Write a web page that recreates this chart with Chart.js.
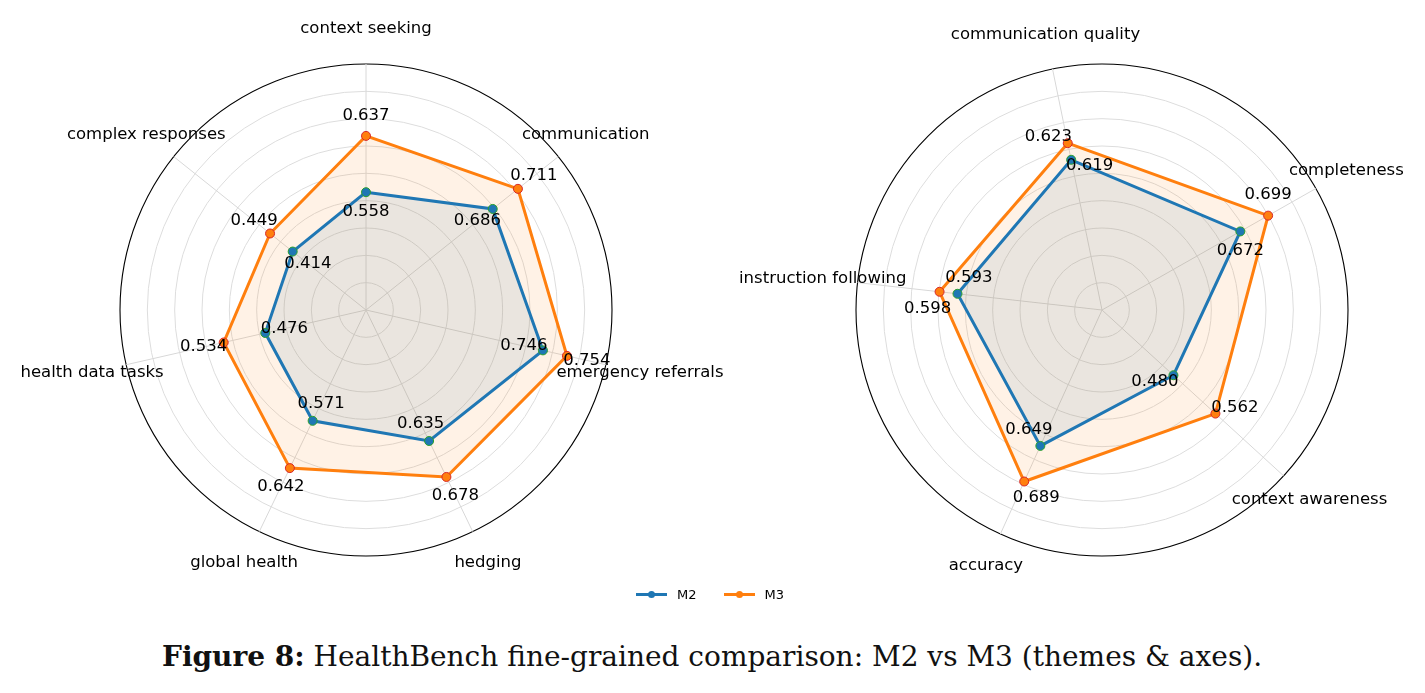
<!DOCTYPE html>
<html>
<head>
<meta charset="utf-8">
<script src="https://cdn.jsdelivr.net/npm/chart.js@4.4.1/dist/chart.umd.min.js"></script>
<style>
  body { margin:0; background:#fff; width:1425px; height:693px; position:relative; overflow:hidden; font-family:"DejaVu Sans", sans-serif; }
  canvas { position:absolute; top:0; }
  #leftChart { left:0; }
  #rightChart { left:730px; }
  .legend { position:absolute; top:587px; left:636px; display:flex; align-items:center; font-size:13px; color:#000; }
  .legend .sym { position:relative; width:31px; height:3px; margin-right:10px; }
  .legend .sym i { position:absolute; left:12px; top:-2.5px; width:7px; height:7px; border-radius:50%; }
  .legend .txt { margin-right:27px; }
  .caption { position:absolute; left:162px; top:640px; font-family:"DejaVu Serif", serif; font-size:28px; color:#111; white-space:nowrap; }
</style>
</head>
<body>
<canvas id="leftChart" width="730" height="600"></canvas>
<canvas id="rightChart" width="695" height="600"></canvas>
<div class="legend">
  <span class="sym" style="background:#1f77b4"><i style="background:#1f77b4"></i></span><span class="txt">M2</span>
  <span class="sym" style="background:#ff7f0e"><i style="background:#ff7f0e"></i></span><span class="txt">M3</span>
</div>
<div class="caption" id="caption"><b>Figure 8:</b> HealthBench fine-grained comparison: M2 vs M3 (themes &amp; axes).</div>
<script>
// left panel: themes
const themeAxes = ['context seeking', 'communication', 'emergency referrals', 'hedging', 'global health', 'health data tasks', 'complex responses'];
const themeM3 = [0.637, 0.711, 0.754, 0.678, 0.642, 0.534, 0.449];
const themeM2 = [0.558, 0.686, 0.746, 0.635, 0.571, 0.476, 0.414];
// where the M2 markers actually sit in the picture (lower than their labels)
const themeM2Drawn = [0.431, 0.593, 0.664, 0.532, 0.450, 0.378, 0.343];

// right panel: axes
const axisAxes = ['communication quality', 'completeness', 'context awareness', 'accuracy', 'instruction following'];
const axisM3 = [0.623, 0.699, 0.562, 0.689, 0.598];
const axisM2 = [0.619, 0.672, 0.480, 0.649, 0.593];
const axisM2Drawn = [0.561, 0.582, 0.354, 0.546, 0.532];

const rMax = 0.9, rStep = 0.1;
const FONT = '16.5px "DejaVu Sans"';

function makeRadar(id, axes, m2, m2Drawn, m3, startAngle, offsetStart, pad) {
  const textPlugin = {
    id: 'radarText',
    afterDatasetsDraw(chart) {
      const r = chart.scales.r, ctx = chart.ctx;
      ctx.save();
      ctx.font = FONT;
      ctx.fillStyle = '#000';
      ctx.textAlign = 'center';
      ctx.textBaseline = 'middle';
      axes.forEach((name, i) => {
        const p = r.getPointPosition(i, r.drawingArea + 35);
        ctx.fillText(name, p.x, p.y);
        const a = (offsetStart + i * 360 / axes.length) * Math.PI / 180;
        const dx = Math.sin(a), dy = -Math.cos(a);
        const p3 = r.getPointPositionForValue(i, m3[i]);
        ctx.fillText(m3[i].toFixed(3), p3.x + dx * 20.5, p3.y + dy * 20.5);
        const p2 = r.getPointPositionForValue(i, m2Drawn[i]);
        ctx.fillText(m2[i].toFixed(3), p2.x - dx * 19.5, p2.y - dy * 19.5);
      });
      ctx.restore();
    }
  };
  return new Chart(document.getElementById(id), {
    type: 'radar',
    data: {
      labels: axes,
      datasets: [
        { label:'M3', data:m3, borderColor:'#ff7f0e', backgroundColor:'rgba(255,127,14,0.1)', fill:true, borderWidth:3,
          pointRadius:4.5, pointBackgroundColor:'#ff7f0e', pointBorderColor:'#d62728', pointBorderWidth:1 },
        { label:'M2', data:m2Drawn, borderColor:'#1f77b4', backgroundColor:'rgba(31,119,180,0.1)', fill:true, borderWidth:3,
          pointRadius:4.5, pointBackgroundColor:'#1f77b4', pointBorderColor:'#2ca02c', pointBorderWidth:1 }
      ]
    },
    options: {
      responsive: false,
      animation: false,
      layout: { padding: pad },
      plugins: { legend: { display:false }, tooltip: { enabled:false }, filler: { drawTime:'beforeDatasetsDraw' } },
      elements: { line: { tension:0 } },
      scales: {
        r: {
          min: 0, max: rMax, startAngle: startAngle,
          ticks: { display:false, stepSize:rStep },
          grid: { circular:true,
            color: c => (c.tick && c.tick.value > rMax - 0.01) ? '#000' : '#dddddd',
            lineWidth: c => (c.tick && c.tick.value > rMax - 0.01) ? 1.1 : 1 },
          angleLines: { color:'#d8d8d8', lineWidth:1 },
          pointLabels: { display:false }
        }
      }
    },
    plugins: [textPlugin]
  });
}

makeRadar('leftChart', themeAxes, themeM2, themeM2Drawn, themeM3, 0, 0, { left:120, right:118, top:64, bottom:44 });
makeRadar('rightChart', axisAxes, axisM2, axisM2Drawn, axisM3, -11.6, -72, { left:126, right:77, top:64, bottom:44 });

// stretch the caption to the width it has in the figure
const cap = document.getElementById('caption');
cap.style.fontSize = (28 * 1100 / cap.getBoundingClientRect().width).toFixed(2) + 'px';
</script>
</body>
</html>
